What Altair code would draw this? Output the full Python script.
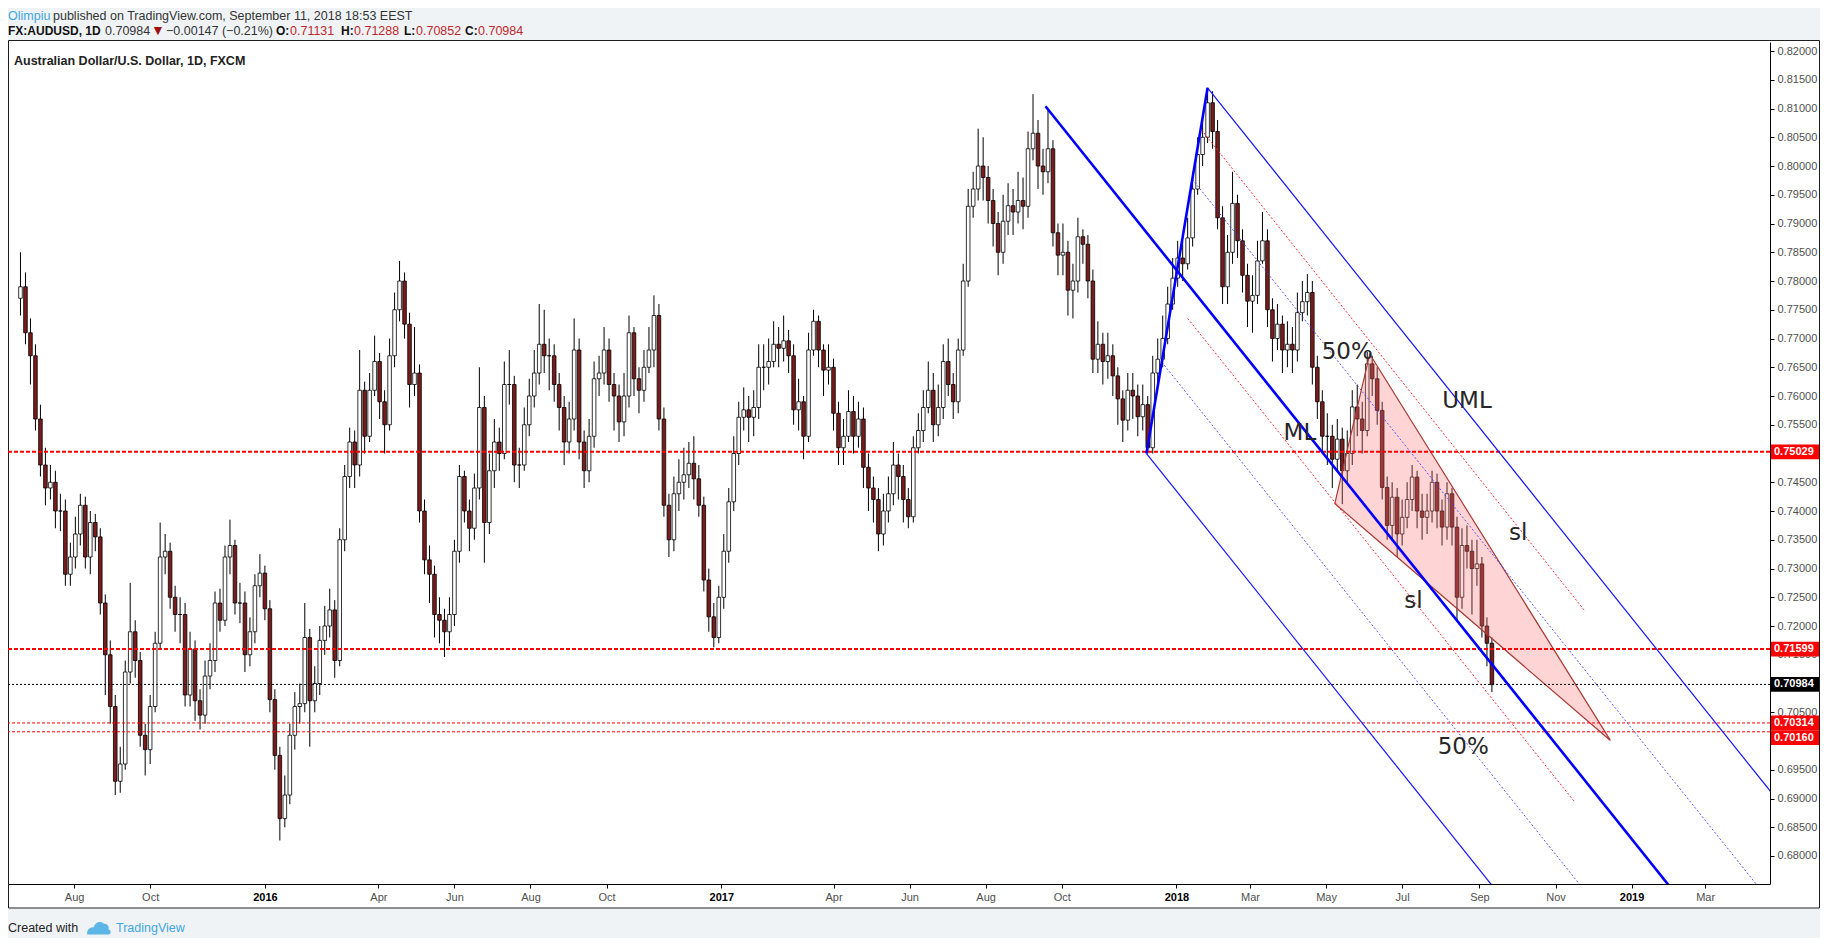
import altair as alt
import pandas as pd

# ---------------- data (prices in pips: value / 10000) ----------------
START_DATE = "2015-06-19"
STEP_DAYS = 4
FIRST_OPEN = 7770

CLOSE = [7790,7710,7670,7560,7480,7440,7450,7400,7400,7290,
         7320,7360,7410,7320,7380,7355,7240,7150,7060,6930,
         6960,7120,7190,7140,7010,6985,7060,7170,7320,7330,
         7250,7220,7220,7080,7160,7070,7045,7113,7140,7240,
         7210,7320,7340,7240,7240,7150,7190,7270,7292,7230,
         7072,6975,6865,6906,7010,7060,7065,7180,7070,7100,
         7175,7200,7228,7140,7350,7460,7520,7480,7610,7530,
         7610,7660,7590,7550,7670,7750,7800,7725,7620,7640,
         7400,7315,7290,7220,7210,7190,7220,7330,7460,7400,
         7370,7440,7580,7380,7470,7520,7500,7620,7620,7480,
         7480,7550,7600,7640,7690,7670,7670,7620,7580,7520,
         7560,7680,7520,7470,7530,7630,7640,7680,7620,7600,
         7555,7600,7710,7630,7610,7650,7680,7740,7560,7410,
         7350,7430,7450,7463,7483,7456,7410,7280,7216,7180,
         7250,7330,7416,7500,7563,7576,7563,7580,7650,7650,
         7660,7690,7683,7696,7670,7576,7590,7530,7680,7730,
         7680,7645,7650,7570,7510,7530,7573,7530,7560,7476,
         7440,7420,7360,7400,7430,7480,7460,7420,7390,7510,
         7540,7580,7610,7550,7580,7660,7620,7590,7680,7800,
         7930,7960,8000,7980,7940,7900,7850,7904,7931,7920,
         7940,7930,8030,8057,8000,7990,8030,7884,7845,7850,
         7784,7800,7877,7864,7800,7664,7690,7660,7670,7635,
         7595,7558,7610,7600,7564,7585,7510,7640,7664,7700,
         7760,7805,7840,7830,7875,7960,8020,8050,8110,8060,
         7910,7790,7850,7935,7870,7810,7765,7775,7835,7870,
         7750,7700,7725,7680,7690,7680,7745,7764,7780,7650,
         7590,7530,7530,7490,7525,7470,7500,7581,7560,7540,
         7656,7630,7575,7441,7375,7424,7360,7389,7420,7459,
         7400,7389,7400,7450,7400,7372,7430,7372,7250,7340,
         7330,7300,7308,7200,7170,7098]

HIGH = [7850,7815,7735,7690,7585,7510,7480,7470,7430,7420,
        7345,7390,7430,7425,7400,7395,7370,7255,7175,7080,
        6990,7140,7275,7210,7155,7030,7080,7190,7380,7360,
        7345,7270,7250,7240,7190,7175,7090,7140,7170,7260,
        7265,7340,7385,7350,7275,7260,7215,7290,7325,7305,
        7245,7090,6990,6940,7030,7085,7100,7240,7195,7130,
        7200,7235,7265,7245,7370,7480,7545,7540,7680,7625,
        7640,7705,7675,7610,7700,7780,7835,7815,7745,7720,
        7655,7420,7340,7305,7250,7230,7250,7350,7480,7470,
        7420,7465,7650,7600,7500,7560,7545,7660,7680,7635,
        7510,7580,7630,7680,7760,7750,7700,7690,7640,7600,
        7590,7735,7700,7540,7560,7660,7670,7720,7700,7640,
        7620,7640,7740,7720,7650,7680,7720,7775,7760,7580,
        7430,7460,7490,7510,7520,7530,7480,7425,7300,7240,
        7270,7360,7440,7530,7590,7615,7600,7610,7690,7690,
        7700,7730,7720,7740,7715,7690,7630,7600,7710,7750,
        7740,7690,7690,7665,7590,7560,7610,7600,7590,7580,
        7500,7460,7440,7430,7460,7520,7500,7480,7440,7530,
        7570,7610,7660,7640,7620,7690,7700,7640,7700,7830,
        7960,7990,8065,8050,8000,7960,7920,7950,7970,7960,
        7990,7980,8060,8125,8080,8030,8100,8045,7900,7900,
        7870,7830,7910,7890,7880,7820,7730,7710,7710,7690,
        7650,7610,7640,7640,7620,7620,7600,7670,7700,7740,
        7790,7840,7870,7870,7910,7990,8050,8090,8136,8130,
        8080,7930,7880,7990,7950,7890,7830,7810,7870,7920,
        7890,7770,7760,7740,7730,7720,7780,7800,7812,7800,
        7670,7610,7570,7550,7560,7545,7540,7610,7620,7590,
        7677,7670,7650,7590,7460,7450,7440,7420,7450,7480,
        7470,7430,7430,7470,7465,7420,7450,7440,7390,7370,
        7375,7350,7350,7320,7215,7180]

LOW = [7740,7690,7620,7540,7460,7410,7420,7370,7365,7270,
       7270,7300,7340,7300,7290,7330,7220,7080,7030,6906,
       6910,6950,7100,7110,6990,6940,6960,7050,7160,7290,
       7230,7190,7170,7060,7060,7035,7020,7030,7090,7120,
       7190,7200,7290,7220,7205,7120,7130,7170,7250,7210,
       7050,6950,6827,6850,6890,6985,7030,7050,6990,7050,
       7080,7150,7180,7110,7130,7330,7440,7440,7460,7500,
       7520,7600,7560,7500,7540,7650,7730,7700,7580,7600,
       7380,7290,7240,7180,7170,7146,7165,7200,7310,7380,
       7330,7350,7420,7310,7360,7440,7470,7490,7585,7450,
       7440,7470,7530,7580,7620,7640,7610,7590,7540,7480,
       7500,7540,7490,7440,7450,7510,7600,7620,7590,7540,
       7520,7530,7580,7600,7570,7590,7640,7650,7540,7390,
       7320,7330,7400,7420,7440,7420,7390,7260,7190,7163,
       7170,7230,7310,7400,7480,7540,7520,7530,7560,7610,
       7620,7650,7650,7660,7640,7550,7540,7490,7520,7670,
       7650,7600,7620,7540,7480,7480,7520,7500,7510,7440,
       7400,7380,7330,7340,7380,7410,7420,7380,7370,7380,
       7500,7520,7570,7520,7530,7560,7600,7560,7570,7670,
       7790,7910,7940,7940,7900,7860,7810,7830,7880,7880,
       7900,7890,7910,8010,7960,7950,7970,7860,7810,7810,
       7740,7735,7780,7830,7770,7640,7640,7620,7630,7600,
       7550,7520,7540,7560,7530,7540,7500,7500,7620,7650,
       7690,7750,7790,7800,7820,7860,7950,8000,8040,8030,
       7890,7760,7760,7830,7840,7780,7720,7710,7760,7830,
       7720,7660,7680,7640,7650,7640,7660,7730,7740,7620,
       7560,7500,7480,7440,7470,7412,7450,7480,7530,7500,
       7530,7600,7550,7420,7350,7350,7320,7340,7370,7400,
       7370,7350,7360,7380,7370,7340,7350,7340,7210,7230,
       7300,7220,7270,7180,7130,7085]

LEVELS = [0.75029, 0.71599, 0.70984, 0.70314, 0.70160]
LEVEL_KIND = ["major", "major", "last", "minor", "minor"]

# Andrews pitchfork pivots: A (handle), B (high), C (low)
PF_DATES = ["2017-09-18", "2018-01-26", "2017-12-08"]
PF_PRICES = [0.8104, 0.8136, 0.7500]

# sliding parallels "sl"
SL_DATES = [["2018-01-21", "2018-11-25"], ["2018-01-10", "2018-11-16"]]
SL_PRICES = [[0.8063, 0.7225], [0.7735, 0.6895]]

# triangle
TRI_DATES = ["2018-05-08", "2018-06-05", "2018-12-15"]
TRI_PRICES = [0.7413, 0.7673, 0.7001]

NOTE_TEXT = ["50%", "ML", "UML", "sl", "sl", "50%"]
NOTE_DATES = ["2018-05-18", "2018-04-10", "2018-08-22", "2018-10-02", "2018-07-10", "2018-08-19"]
NOTE_PRICES = [0.7676, 0.7535, 0.7591, 0.7361, 0.7243, 0.6990]

X_TICKS = ["2015-08-01", "2015-10-01", "2016-01-01", "2016-04-01", "2016-06-01",
           "2016-08-01", "2016-10-01", "2017-01-01", "2017-04-01", "2017-06-01",
           "2017-08-01", "2017-10-01", "2018-01-01", "2018-03-01", "2018-05-01",
           "2018-07-01", "2018-09-01", "2018-11-01", "2019-01-01", "2019-03-01"]
Y_TICKS = [0.680, 0.685, 0.690, 0.695, 0.700, 0.705, 0.710, 0.715, 0.720, 0.725,
           0.730, 0.735, 0.740, 0.745, 0.750, 0.755, 0.760, 0.765, 0.770, 0.775,
           0.780, 0.785, 0.790, 0.795, 0.800, 0.805, 0.810, 0.815, 0.820]
X_DOMAIN = ["2015-06-13", "2019-04-18"]
Y_DOMAIN = [0.67513, 0.82157]

# ---------------- helpers ----------------
def ms(d):
    return int(pd.Timestamp(d).value // 10**6)

W, H = 1762, 842
TOTAL_W, TOTAL_H = 1812, 930
PAD_TOP = 34
BG = "#f0f3f6"
FONT = "Liberation Sans"

xscale = alt.Scale(type="utc", domain=[ms(d) for d in X_DOMAIN], nice=False)
yscale = alt.Scale(domain=Y_DOMAIN, nice=False, zero=False)

is_year = "utcmonth(datum.value) === 0"
xaxis = alt.Axis(
    values=[ms(d) for d in X_TICKS],
    labelExpr="utcmonth(datum.value) === 0 ? utcFormat(datum.value, '%Y') : utcFormat(datum.value, '%b')",
    title=None, grid=False, orient="bottom", tickSize=4, tickColor="#000",
    domainColor="#000", labelFont=FONT, labelFontSize=11, labelPadding=3,
    labelColor={"condition": {"test": is_year, "value": "#000000"}, "value": "#4f4f4f"},
    labelFontWeight={"condition": {"test": is_year, "value": "bold"}, "value": "normal"},
    labelOverlap=False, labelFlush=False)
yaxis = alt.Axis(
    values=Y_TICKS, format=".5f", orient="right", title=None, grid=False,
    tickSize=4, tickColor="#000", domainColor="#000", labelPadding=3,
    labelFont=FONT, labelFontSize=11, labelColor="#4f4f4f", labelOverlap=False)


def X(field):
    return alt.X(field, type="temporal", scale=xscale, axis=xaxis)


def Y(field):
    return alt.Y(field, type="quantitative", scale=yscale, axis=yaxis)


one = pd.DataFrame({"a": [0]})

# ---------------- candles ----------------
dates = pd.date_range(START_DATE, periods=len(CLOSE), freq=f"{STEP_DAYS}D")
opens = [FIRST_OPEN] + CLOSE[:-1]
candles = pd.DataFrame({
    "t": [ms(d) for d in dates],
    "o": [v / 1e4 for v in opens],
    "h": [v / 1e4 for v in HIGH],
    "l": [v / 1e4 for v in LOW],
    "c": [v / 1e4 for v in CLOSE],
})

wicks = alt.Chart(candles).mark_rule(color="#000", strokeWidth=1).encode(
    x=X("t"), y=Y("l"), y2="h")
bodies = alt.Chart(candles).mark_bar(size=3.6, stroke="#000", strokeWidth=0.8).encode(
    x=X("t"), y=Y("o"), y2="c",
    fill=alt.condition("datum.c < datum.o", alt.value("#7a1c1c"), alt.value("#ffffff")))

# ---------------- horizontal levels ----------------
lev = pd.DataFrame({"p": LEVELS, "kind": LEVEL_KIND})
major = alt.Chart(lev[lev.kind == "major"]).mark_rule(
    color="#ff0000", strokeWidth=2, strokeDash=[4, 2]).encode(y=Y("p"))
last = alt.Chart(lev[lev.kind == "last"]).mark_rule(
    color="#000", strokeWidth=1, strokeDash=[2, 2]).encode(y=Y("p"))
minor = alt.Chart(lev[lev.kind == "minor"]).mark_rule(
    color="#ff0000", strokeWidth=1, strokeDash=[3, 2]).encode(y=Y("p"))

# price label boxes on the scale (pushed apart when they would overlap)
box_h = 0.00256
centers = []
for p in sorted(LEVELS, reverse=True):
    c = p if not centers else min(p, centers[-1] - box_h)
    centers.append(c)
order = sorted(range(len(LEVELS)), key=lambda i: -LEVELS[i])
boxes = pd.DataFrame({
    "label": [f"{LEVELS[i]:.5f}" for i in order],
    "kind": [LEVEL_KIND[i] for i in order],
    "c": centers,
})
boxes["top"] = boxes["c"] + box_h / 2
boxes["bot"] = boxes["c"] - box_h / 2
box_rect = alt.Chart(boxes).mark_rect().encode(
    x=alt.value(W + 1), x2=alt.value(W + 49), y=Y("top"), y2="bot",
    fill=alt.condition("datum.kind === 'last'", alt.value("#000000"), alt.value("#ff0000")))
box_text = alt.Chart(boxes).mark_text(
    align="left", baseline="middle", font=FONT, fontSize=11, fontWeight="bold",
    color="#ffffff").encode(x=alt.value(W + 4), y=Y("c"), text="label:N")

# ---------------- pitchfork ----------------
dA, dB, dC = [ms(d) for d in PF_DATES]
pA, pB, pC = PF_PRICES
dM, pM = (dB + dC) / 2, (pB + pC) / 2
slope = (pM - pA) / (dM - dA)
far = ms("2020-06-01")


def ray(name, d0, p0):
    return [{"id": name, "t": d0, "p": p0}, {"id": name, "t": far, "p": p0 + slope * (far - d0)}]


thick = pd.DataFrame(ray("median", dA, pA) + [
    {"id": "bc", "t": dC, "p": pC}, {"id": "bc", "t": dB, "p": pB}])
thin = pd.DataFrame(ray("uml", dB, pB) + ray("lml", dC, pC))
half = pd.DataFrame(ray("h_up", (dM + dB) / 2, (pM + pB) / 2) +
                    ray("h_dn", (dM + dC) / 2, (pM + pC) / 2))
sl_rows = []
for k, (ds, ps) in enumerate(zip(SL_DATES, SL_PRICES)):
    for d, p in zip(ds, ps):
        sl_rows.append({"id": f"sl{k}", "t": ms(d), "p": p})
sl = pd.DataFrame(sl_rows)

thick_l = alt.Chart(thick).mark_line(color="#0000ff", strokeWidth=2.6, clip=True).encode(
    x=X("t"), y=Y("p"), detail="id:N")
thin_l = alt.Chart(thin).mark_line(color="#1414ff", strokeWidth=1.2, clip=True).encode(
    x=X("t"), y=Y("p"), detail="id:N")
half_l = alt.Chart(half).mark_line(color="#3a3aff", strokeWidth=1, strokeDash=[2, 2],
                                   opacity=0.85, clip=True).encode(
    x=X("t"), y=Y("p"), detail="id:N")
sl_l = alt.Chart(sl).mark_line(color="#ff2a2a", strokeWidth=1, strokeDash=[2, 2],
                               clip=True).encode(
    x=X("t"), y=Y("p"), detail="id:N")

# ---------------- triangle ----------------
tL, tT, tR = [ms(d) for d in TRI_DATES]
qL, qT, qR = TRI_PRICES
lowT = qL + (qR - qL) * (tT - tL) / (tR - tL)
tri = pd.DataFrame({"t": [tL, tT, tR], "p": [qL, qT, qR], "p2": [qL, lowT, qR]})
tri_l = alt.Chart(tri).mark_area(fill="#ff7070", fillOpacity=0.3, stroke="#a83a34",
                                 strokeWidth=1.2, interpolate="linear").encode(
    x=X("t"), y=Y("p"), y2="p2")

# ---------------- chart notes ----------------
notes = pd.DataFrame({"t": [ms(d) for d in NOTE_DATES], "p": NOTE_PRICES, "txt": NOTE_TEXT})
notes_l = alt.Chart(notes).mark_text(font="DejaVu Sans", fontSize=23, color="#262626",
                                     align="center", baseline="middle").encode(
    x=X("t"), y=Y("p"), text="txt:N")

# ---------------- page furniture ----------------
def band(x0, x1, y0, y1, color):
    return alt.Chart(one).mark_rect(color=color).encode(
        x=alt.value(x0), x2=alt.value(x1), y=alt.value(y0), y2=alt.value(y1))


bottom_rel = TOTAL_H - PAD_TOP
bg_top = band(0, TOTAL_W, -PAD_TOP, -1.5, BG)
bg_bot = band(0, TOTAL_W, 866.5, bottom_rel, BG)
frame = alt.Chart(one).mark_rect(fillOpacity=0, stroke="#1e1e1e", strokeWidth=1).encode(
    x=alt.value(0.5), x2=alt.value(TOTAL_W - 0.5), y=alt.value(-1.5), y2=alt.value(866))


def txt(s, x, y, color="#333333", weight="normal", size=12.5, align="left"):
    return alt.Chart(one).mark_text(
        text=s, align=align, baseline="middle", font=FONT, fontSize=size,
        fontWeight=weight, color=color).encode(x=alt.value(x), y=alt.value(y))


RED = "#c0272d"
L1, L2 = -26.5, -11.5
header = [
    txt("Olimpiu", 0, L1, color="#3ea6df"),
    txt("published on TradingView.com, September 11, 2018 18:53 EEST", 45, L1),
    txt("FX:AUDUSD, 1D", 0, L2, color="#111", weight="bold", size=12),
    txt("0.70984", 97, L2),
    txt("\u25bc", 143, L2, color="#a01010", size=14),
    txt("\u22120.00147 (\u22120.21%)", 158, L2),
    txt("O:", 268, L2, color="#111", weight="bold", size=12), txt("0.71131", 282, L2, color=RED),
    txt("H:", 333, L2, color="#111", weight="bold", size=12), txt("0.71288", 346, L2, color=RED),
    txt("L:", 396, L2, color="#111", weight="bold", size=12), txt("0.70852", 408, L2, color=RED),
    txt("C:", 457, L2, color="#111", weight="bold", size=12), txt("0.70984", 470, L2, color=RED),
    txt("Australian Dollar/U.S. Dollar, 1D, FXCM", 6, 19, color="#222", weight="bold"),
    txt("Created with", 0, 886, color="#222"),
    txt("TradingView", 108, 886, color="#3ea6df"),
]
logo = alt.Chart(one).mark_point(
    shape="M-1,0.55 C-1.05,0.15 -0.75,-0.1 -0.45,-0.05 C-0.35,-0.5 0.15,-0.65 0.4,-0.35 "
          "C0.65,-0.4 0.9,-0.15 0.8,0.1 C1.05,0.15 1.05,0.55 0.8,0.55 Z",
    filled=True, fill="#5cb6e8", size=560, opacity=1).encode(
    x=alt.value(91), y=alt.value(886))

chart = alt.layer(
    bg_top, bg_bot, frame,
    wicks, bodies, tri_l,
    major, last, minor,
    thin_l, half_l, sl_l, thick_l,
    notes_l,
    box_rect, box_text,
    *header, logo,
).properties(
    width=W, height=H,
    autosize=alt.AutoSizeParams(type="none"),
    padding={"left": 0, "top": PAD_TOP, "right": TOTAL_W - W, "bottom": TOTAL_H - PAD_TOP - H},
).configure(background="#ffffff").configure_view(stroke=None)

chart.save("out.html", embed_options={"renderer": "svg", "actions": False})
